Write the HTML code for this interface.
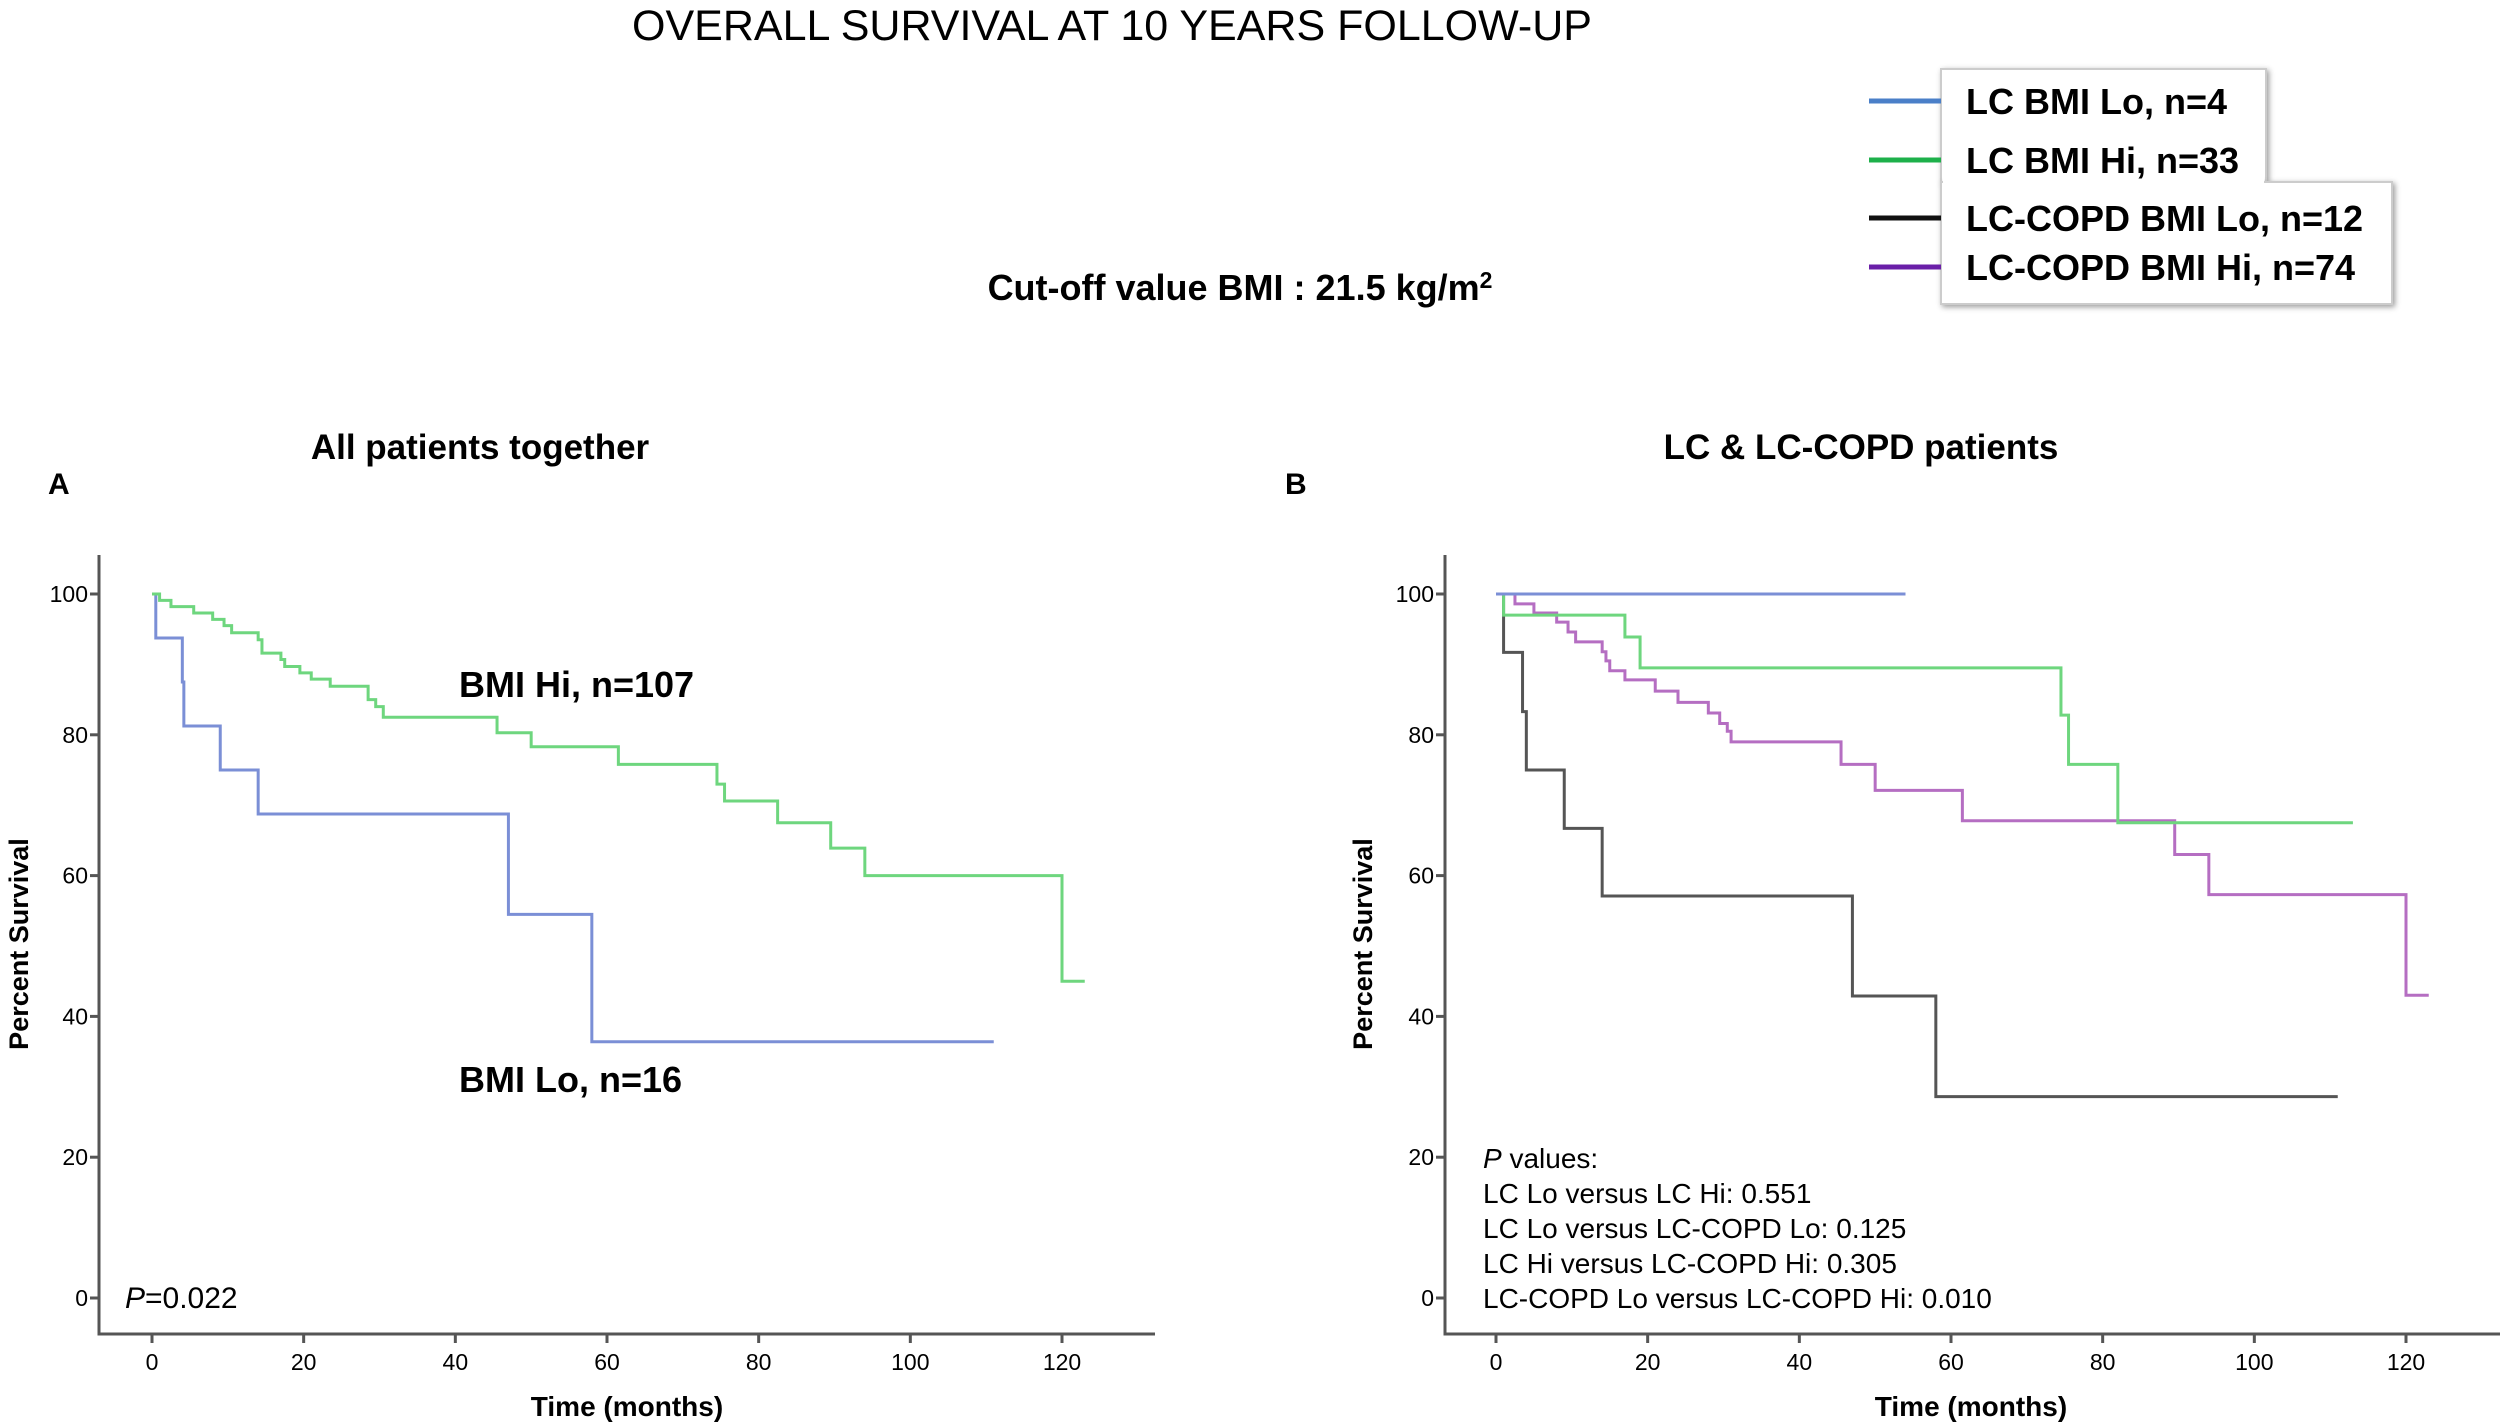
<!DOCTYPE html>
<html><head><meta charset="utf-8"><style>
html,body{margin:0;padding:0;background:#fff;}
svg{display:block;}
text{font-family:"Liberation Sans Narrow","Liberation Sans",sans-serif;}
</style></head><body>
<svg id="fig" width="2508" height="1428" viewBox="0 0 2508 1428" xmlns="http://www.w3.org/2000/svg">
<text x="1112" y="40" text-anchor="middle" font-size="43" style="font-family:'Liberation Sans',sans-serif">OVERALL SURVIVAL AT 10 YEARS FOLLOW-UP</text>
<text x="1240" y="300" text-anchor="middle" font-size="36" font-weight="bold" style="font-family:'Liberation Sans',sans-serif">Cut-off  value BMI : 21.5 kg/m<tspan dy="-12" font-size="23">2</tspan></text>
<g>
<rect x="1941" y="69" width="325" height="113" fill="#fff" stroke="#ccc" stroke-width="2" style="filter:drop-shadow(2px 2px 3px #999)"/>
<rect x="1941" y="182" width="451" height="122" fill="#fff" stroke="#ccc" stroke-width="2" style="filter:drop-shadow(2px 2px 3px #999)"/>
<rect x="1943" y="170" width="321" height="16" fill="#fff"/>
<line x1="1869" y1="101" x2="1941" y2="101" stroke="#4a7fc8" stroke-width="5"/>
<line x1="1869" y1="160" x2="1941" y2="160" stroke="#1db04a" stroke-width="5"/>
<line x1="1869" y1="218" x2="1941" y2="218" stroke="#111" stroke-width="5"/>
<line x1="1869" y1="267" x2="1941" y2="267" stroke="#6a1fa8" stroke-width="5"/>
<text x="1966" y="114" font-size="36" font-weight="bold">LC  BMI  Lo, n=4</text>
<text x="1966" y="173" font-size="36" font-weight="bold">LC  BMI  Hi, n=33</text>
<text x="1966" y="231" font-size="36" font-weight="bold">LC-COPD  BMI  Lo, n=12</text>
<text x="1966" y="280" font-size="36" font-weight="bold">LC-COPD  BMI  Hi, n=74</text>
</g>
<text x="480" y="459" text-anchor="middle" font-size="35" font-weight="bold" style="font-family:'Liberation Sans',sans-serif">All patients together</text>
<text x="1861" y="459" text-anchor="middle" font-size="35" font-weight="bold" style="font-family:'Liberation Sans',sans-serif">LC &amp; LC-COPD  patients</text>
<text x="48" y="494" font-size="30" font-weight="bold" style="font-family:'Liberation Sans',sans-serif">A</text>
<text x="1285" y="494" font-size="30" font-weight="bold" style="font-family:'Liberation Sans',sans-serif">B</text>
<g id="pa"></g>
<g id="pb"></g>
<text x="459" y="697" font-size="36" font-weight="bold">BMI Hi, n=107</text>
<text x="459" y="1092" font-size="36" font-weight="bold">BMI Lo, n=16</text>
<text x="125" y="1308" font-size="30"><tspan font-style="italic">P</tspan>=0.022</text>
<g font-size="28">
<text x="1483" y="1168"><tspan font-style="italic">P</tspan> values:</text>
<text x="1483" y="1203">LC  Lo versus LC Hi:  0.551</text>
<text x="1483" y="1238">LC  Lo versus LC-COPD  Lo: 0.125</text>
<text x="1483" y="1273">LC  Hi versus  LC-COPD  Hi:  0.305</text>
<text x="1483" y="1308">LC-COPD   Lo versus LC-COPD  Hi:  0.010</text>
</g>
</svg>
<script>
const xTicks=[0,20,40,60,80,100,120];
const yTicks=[0,20,40,60,80,100];
// Panel A
const aHiT=[0,1,2.5,5.5,8,9.5,10.5,14,14.5,17,17.5,19.5,21,23.5,28.5,29.5,30.5,45.5,50,61.5,74.5,75.5,82.5,89.5,94,120];
const aHiS=[100,99.1,98.2,97.3,96.4,95.5,94.5,93.5,91.6,90.7,89.7,88.8,87.9,86.9,85,84,82.5,80.3,78.3,75.8,73,70.6,67.5,63.9,60,45];
const aHiEnd=123;
const aLoT=[0,0.5,4,4.2,9,14,47,58];
const aLoS=[100,93.75,87.5,81.25,75,68.75,54.5,36.4];
const aLoEnd=111;
// Panel B
const bLcLoT=[0]; const bLcLoS=[100]; const bLcLoEnd=54;
const bLcHiT=[0,1,17,19,74.5,75.5,82];
const bLcHiS=[100,97,93.9,89.5,82.8,75.8,67.5]; const bLcHiEnd=113;
const bCoLoT=[0,1,3.5,4,9,14,47,58];
const bCoLoS=[100,91.7,83.3,75,66.7,57.1,42.9,28.6]; const bCoLoEnd=111;
const bCoHiT=[0,2.5,5,8,9.5,10.5,14,14.5,15,17,21,24,28,29.5,30.5,31,45.5,50,61.5,89.5,94,120];
const bCoHiS=[100,98.6,97.3,96,94.6,93.2,91.8,90.5,89.1,87.8,86.2,84.6,83.1,81.6,80.5,79,75.8,72.1,67.8,63,57.3,43];
const bCoHiEnd=123;

const NS='http://www.w3.org/2000/svg';
function mk(tag,attrs,parent){const e=document.createElementNS(NS,tag);for(const k in attrs)e.setAttribute(k,attrs[k]);parent.appendChild(e);return e;}
function panel(g,ax,x0,x120,axRight,ytitleX,xtitleX){
  const sx=t=>x0+(x120-x0)*t/120;
  const sy=v=>1298-(1298-594)*v/100;
  const axis=mk('path',{d:`M${ax} 555 V1334 H${axRight}`,fill:'none',stroke:'#555','stroke-width':3},g);
  
  
  yTicks.forEach(v=>{
    mk('line',{x1:ax-9,y1:sy(v),x2:ax,y2:sy(v),stroke:'#555','stroke-width':3},g);
    const t=mk('text',{x:ax-11,y:sy(v)+8,'text-anchor':'end','font-size':23},g);t.textContent=v;
    
    
  });
  xTicks.forEach(v=>{
    mk('line',{x1:sx(v),y1:1334,x2:sx(v),y2:1343,stroke:'#555','stroke-width':3},g);
    const t=mk('text',{x:sx(v),y:1370,'text-anchor':'middle','font-size':23},g);t.textContent=v;
    
    
  });
  const yt=mk('text',{x:0,y:0,'text-anchor':'middle','font-size':27,'font-weight':'bold',transform:`translate(${ytitleX},944) rotate(-90)`,style:"font-family:'Liberation Sans',sans-serif"},g);
  yt.textContent='Percent Survival';
  
  
  const xt=mk('text',{x:xtitleX,y:1416,'text-anchor':'middle','font-size':28,'font-weight':'bold',style:"font-family:'Liberation Sans',sans-serif"},g);
  xt.textContent='Time (months)';
  
  
  return {sx,sy};
}
function curve(g,s,T,S,end,color,name){
  let d=`M${s.sx(T[0])} ${s.sy(S[0])}`;
  for(let i=1;i<T.length;i++){d+=` H${s.sx(T[i])} V${s.sy(S[i])}`;}
  d+=` H${s.sx(end)}`;
  const p=mk('path',{d:d,fill:'none',stroke:color,'stroke-width':3},g);
  
  
}
const ga=document.getElementById('pa');
const sa=panel(ga,99,152,1062,1155,28,627);
curve(ga,sa,aLoT,aLoS,aLoEnd,'#7b8fd6','curve-bmi-lo');
curve(ga,sa,aHiT,aHiS,aHiEnd,'#6ed67e','curve-bmi-hi');
const gb=document.getElementById('pb');
const sb=panel(gb,1445,1496,2406,2500,1372,1971);
curve(gb,sb,bCoLoT,bCoLoS,bCoLoEnd,'#555','curve-lc-copd-lo');
curve(gb,sb,bCoHiT,bCoHiS,bCoHiEnd,'#b56ec2','curve-lc-copd-hi');
curve(gb,sb,bLcHiT,bLcHiS,bLcHiEnd,'#6ed67e','curve-lc-hi');
curve(gb,sb,bLcLoT,bLcLoS,bLcLoEnd,'#7b8fd6','curve-lc-lo');
</script>
</body></html>
